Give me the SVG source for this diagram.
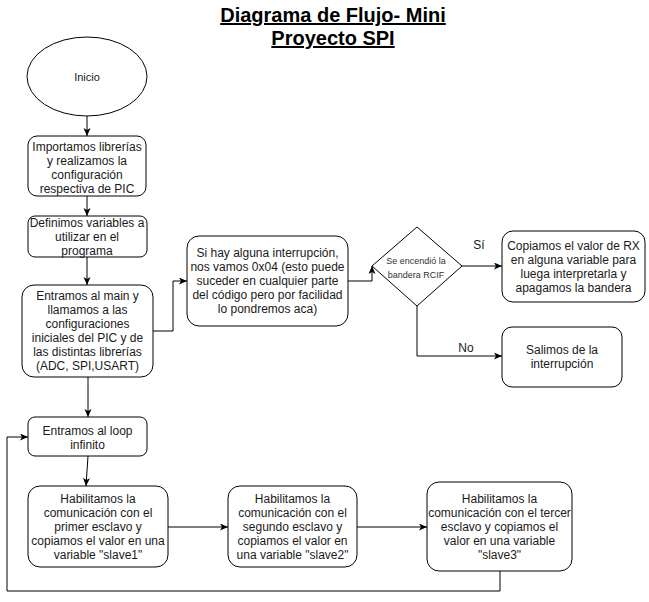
<svg xmlns="http://www.w3.org/2000/svg" width="649" height="602" viewBox="0 0 649 602">
<defs>
<style>
.n{fill:#fff;stroke:#000;stroke-width:1}
.t{font-family:"Liberation Sans",Arial,sans-serif;font-size:12px;fill:#1a1a1a;text-anchor:middle}
.s{font-family:"Liberation Sans",Arial,sans-serif;font-size:9px;fill:#333;text-anchor:middle}
.title{font-family:"Liberation Sans",Arial,sans-serif;font-size:20px;font-weight:bold;fill:#000;text-anchor:middle;text-decoration:underline}
.c{fill:none;stroke:#000;stroke-width:1}
</style>
<marker id="a" markerWidth="10" markerHeight="8" refX="8" refY="3.5" orient="auto" markerUnits="userSpaceOnUse">
<path d="M0,0 L8,3.5 L0,7 L2,3.5 z" fill="#000"/>
</marker>
</defs>
<rect width="649" height="602" fill="#fff"/>
<g id="title">
<text class="title" x="333" y="22">Diagrama de Flujo- Mini</text>
<text class="title" x="333" y="45">Proyecto SPI</text>
</g>
<g id="connectors">
<path class="c" d="M87,116 L87,136" marker-end="url(#a)"/>
<path class="c" d="M87,196 L87,216" marker-end="url(#a)"/>
<path class="c" d="M87,257 L87,285" marker-end="url(#a)"/>
<path class="c" d="M88,377 L88,417" marker-end="url(#a)"/>
<path class="c" d="M153,331 L173,331 L173,281 L187,281" marker-end="url(#a)"/>
<path class="c" d="M348,281 L372,281 L372,266" marker-end="url(#a)"/>
<path class="c" d="M462,266 L502,266" marker-end="url(#a)"/>
<path class="c" d="M417,306 L417,356 L502,356" marker-end="url(#a)"/>
<path class="c" d="M88,456 L86,486" marker-end="url(#a)"/>
<path class="c" d="M168,527 L228,527" marker-end="url(#a)"/>
<path class="c" d="M357,527 L427,527" marker-end="url(#a)"/>
<path class="c" d="M500,571 L500,591 L7,591 L7,437 L28,437" marker-end="url(#a)"/>
<text class="t" x="479" y="249">Sí</text>
<text class="t" x="466" y="352">No</text>
</g>
<g id="inicio">
<ellipse class="n" cx="87" cy="76.5" rx="60" ry="39.5"/>
<text class="t" x="87" y="81" style="font-size:11px">Inicio</text>
</g>
<g id="importar">
<rect class="n" x="28" y="136" width="118" height="60" rx="9"/>
<text class="t" x="87" y="151">Importamos librerías</text>
<text class="t" x="87" y="165">y realizamos la</text>
<text class="t" x="87" y="179">configuración</text>
<text class="t" x="87" y="193">respectiva de PIC</text>
</g>
<g id="variables">
<rect class="n" x="28" y="216" width="119" height="41" rx="7"/>
<text class="t" x="87" y="227">Definimos variables a</text>
<text class="t" x="87" y="241">utilizar en el</text>
<text class="t" x="87" y="255">programa</text>
</g>
<g id="main">
<rect class="n" x="22" y="285" width="131" height="92" rx="12"/>
<text class="t" x="87.5" y="300">Entramos al main y</text>
<text class="t" x="87.5" y="314">llamamos a las</text>
<text class="t" x="87.5" y="328">configuraciones</text>
<text class="t" x="87.5" y="342">iniciales del PIC y de</text>
<text class="t" x="87.5" y="356">las distintas librerías</text>
<text class="t" x="87.5" y="370">(ADC, SPI,USART)</text>
</g>
<g id="interrupcion">
<rect class="n" x="187" y="236" width="161" height="90" rx="12"/>
<text class="t" x="267.5" y="257">Si hay alguna interrupción,</text>
<text class="t" x="267.5" y="271">nos vamos 0x04 (esto puede</text>
<text class="t" x="267.5" y="285">suceder en cualquier parte</text>
<text class="t" x="267.5" y="299">del código pero por facilidad</text>
<text class="t" x="267.5" y="313">lo pondremos aca)</text>
</g>
<g id="decision">
<polygon class="n" points="417,227 462,266 417,306 372,266"/>
<text class="s" x="416" y="264">Se encendió la</text>
<text class="s" x="416" y="278">bandera RCIF</text>
</g>
<g id="copiar">
<rect class="n" x="502" y="231" width="143" height="71" rx="11"/>
<text class="t" x="573.5" y="250">Copiamos el valor de RX</text>
<text class="t" x="573.5" y="264">en alguna variable para</text>
<text class="t" x="573.5" y="278">luega interpretarla y</text>
<text class="t" x="573.5" y="292">apagamos la bandera</text>
</g>
<g id="salimos">
<rect class="n" x="502" y="327" width="120" height="60" rx="10"/>
<text class="t" x="562" y="354">Salimos de la</text>
<text class="t" x="562" y="368">interrupción</text>
</g>
<g id="loop">
<rect class="n" x="28" y="417" width="119" height="39" rx="7"/>
<text class="t" x="87.5" y="435">Entramos al loop</text>
<text class="t" x="87.5" y="449">infinito</text>
</g>
<g id="slave1">
<rect class="n" x="28" y="486" width="140" height="81" rx="12"/>
<text class="t" x="98" y="503">Habilitamos la</text>
<text class="t" x="98" y="517">comunicación con el</text>
<text class="t" x="98" y="531">primer esclavo y</text>
<text class="t" x="98" y="545">copiamos el valor en una</text>
<text class="t" x="98" y="559">variable "slave1"</text>
</g>
<g id="slave2">
<rect class="n" x="228" y="486" width="129" height="81" rx="12"/>
<text class="t" x="292.5" y="503">Habilitamos la</text>
<text class="t" x="292.5" y="517">comunicación con el</text>
<text class="t" x="292.5" y="531">segundo esclavo y</text>
<text class="t" x="292.5" y="545">copiamos el valor en</text>
<text class="t" x="292.5" y="559">una variable "slave2"</text>
</g>
<g id="slave3">
<rect class="n" x="427" y="482" width="145" height="89" rx="12"/>
<text class="t" x="499.5" y="503">Habilitamos la</text>
<text class="t" x="499.5" y="517">comunicación con el tercer</text>
<text class="t" x="499.5" y="531">esclavo y copiamos el</text>
<text class="t" x="499.5" y="545">valor en una variable</text>
<text class="t" x="499.5" y="559">"slave3"</text>
</g>
</svg>
